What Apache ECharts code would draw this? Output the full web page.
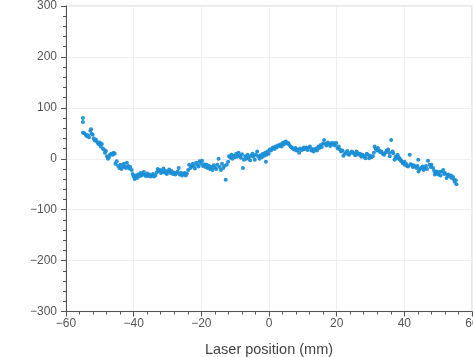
<!DOCTYPE html>
<html>
<head>
<meta charset="utf-8">
<script src="https://cdn.jsdelivr.net/npm/echarts@6/dist/echarts.min.js"></script>
<style>
  html, body { margin: 0; padding: 0; background: #fff; }
  #chart { width: 473px; height: 357px; }
</style>
</head>
<body>
<div id="chart"></div>
<script>
// Laser scan: measured deviation vs. laser position (mm)
const positions = [
  -55.0,-55.0,-55.0,-54.6,-54.2,-53.8,-53.5,-53.2,-52.8,-52.6,-52.4,-52.1,-51.8,-51.5,-51.2,-50.8,-50.5,-50.2,-50.0,-49.7,-49.4,-49.1,-48.8,-48.5,-48.2,-47.9,-47.6,-47.3,-47.0,-46.6,-46.2,-45.9,-45.6,-45.4,-45.0,
  -44.6,-44.2,-43.9,-43.6,-43.2,-42.9,-42.6,-42.3,-42.0,-41.6,-41.3,-41.0,-40.6,-40.3,-40.0,-39.7,-39.4,-39.0,-38.7,-38.4,-38.0,-37.7,-37.4,-37.0,-36.7,-36.4,-36.0,-35.7,-35.4,-35.0,-34.6,-34.3,-34.0,-33.6,
  -33.2,-32.9,-32.6,-32.2,-31.9,-31.5,-31.2,-30.9,-30.5,-30.2,-29.8,-29.5,-29.1,-28.8,-28.4,-28.1,-27.7,-27.4,-27.0,-26.7,-26.4,-26.0,-25.7,-25.3,-25.0,-24.6,-24.3,
  -23.9,-23.6,-23.2,-22.9,-22.5,-22.2,-21.9,-21.5,-21.2,-20.8,-20.5,-20.1,-19.8,-19.5,-19.1,-18.8,-18.4,-18.1,-17.7,-17.4,-17.0,-16.7,-16.3,-16.0,-15.6,-15.3,-14.9,-14.6,-14.2,-13.9,-13.5,-13.2,-12.8,-12.5,-12.1,
  -11.8,-11.4,-11.1,-10.8,-10.4,-10.1,-9.7,-9.4,-9.0,-8.7,-8.3,-8.0,-7.7,-7.4,-7.0,-6.7,-6.3,-6.0,-5.6,-5.3,-4.9,-4.6,-4.2,-3.9,-3.5,-3.2,-2.8,-2.5,-2.1,-1.8,-1.4,-1.1,-0.9,-0.7,-0.4,-0.1,
  0.2,0.6,0.9,1.2,1.6,1.9,2.3,2.6,3.0,3.3,3.7,4.0,4.4,4.7,5.0,5.4,5.7,6.0,6.4,6.7,7.1,7.4,7.8,8.1,8.5,8.9,9.2,9.6,10.0,
  10.3,10.7,11.0,11.4,11.8,12.1,12.5,12.8,13.2,13.5,13.9,14.2,14.6,14.9,15.3,15.6,16.0,16.3,16.7,17.0,17.4,17.8,18.1,18.5,18.8,19.2,19.5,19.9,
  20.3,20.6,21.0,21.3,21.7,22.0,22.4,22.7,23.1,23.4,23.7,24.1,24.5,24.8,25.2,25.5,25.9,26.2,26.6,26.9,27.3,27.6,27.9,
  28.2,28.5,28.9,29.2,29.6,29.9,30.3,30.7,31.0,31.2,31.5,31.7,32.0,32.2,32.6,32.9,33.2,33.6,34.0,34.4,34.8,35.2,35.5,35.7,36.1,36.5,36.7,
  37.1,37.4,37.6,38.0,38.1,38.5,38.6,39.0,39.1,39.5,39.6,40.0,40.1,40.5,40.8,41.1,41.6,41.8,42.1,42.5,42.8,43.1,43.6,43.9,44.1,44.2,44.6,45.0,45.4,45.7,46.0,
  46.4,46.7,47.0,47.5,47.8,48.0,48.5,48.8,49.0,49.3,49.5,49.8,50.0,50.4,50.7,51.0,51.5,51.8,52.0,52.5,52.8,53.0,53.5,53.8,54.0,54.4,54.7,54.9,55.2,55.4
];
const readings = [
  80,72,51,50,47,44,46,42,55,58,49,47,40,36,38,33,30,28,32,24,29,20,18,12,15,5,0,3,8,10,8,12,10,-10,-5,
  -14,-18,-12,-20,-16,-10,-15,-18,-8,-14,-19,-16,-22,-30,-35,-40,-33,-38,-31,-35,-28,-33,-30,-26,-32,-34,-29,-34,-31,-35,-33,-30,-35,-33,
  -27,-20,-24,-22,-28,-25,-19,-27,-24,-30,-25,-21,-28,-24,-30,-27,-31,-28,-25,-18,-31,-28,-33,-30,-28,-33,-29,
  -22,-12,-18,-15,-10,-14,-19,-8,-12,-15,-5,-10,-4,-14,-11,-16,-12,-18,-14,-20,-16,-22,-13,-17,-20,-12,0,-16,-22,-10,-18,-14,-41,-12,-6,
  5,2,8,0,6,3,10,4,12,6,2,9,-18,-2,5,0,8,2,-3,6,10,4,-2,8,14,5,0,7,3,10,6,12,-6,8,14,10,
  18,16,20,22,19,24,22,26,25,28,24,31,28,33,34,30,31,27,24,22,20,18,21,16,18,12,20,17,18,
  22,19,22,17,22,24,16,19,14,18,20,16,24,21,27,23,30,37,29,26,32,29,25,31,28,31,26,31,
  20,24,18,14,16,6,10,12,15,9,8,12,14,12,10,7,14,11,8,10,4,8,6,
  5,1,10,8,1,6,3,5,12,24,20,18,16,21,16,13,14,10,8,12,16,18,12,5,37,14,11,
  -2,4,1,8,5,-1,1,-3,-5,-8,-9,-6,-12,-10,-14,-15,8,-11,-12,-16,-13,-15,-18,-14,-2,-25,-20,-18,-15,-22,-18,
  -14,-20,-4,-12,-16,-12,-18,-24,-31,-27,-25,-29,-31,-26,-33,-25,-22,-30,-28,-38,-33,-31,-35,-33,-38,-36,-41,-45,-42,-50
];
const xTickRange = [-60, 60];
const yTickRange = [-300, 300];
const xAxisTitle = 'Laser position (mm)';

const points = positions.map((x, i) => [x, readings[i]]);
const minus = v => String(v).replace('-', '\u2212');

const labelFont = { color: '#555', fontSize: 12, fontFamily: 'Liberation Sans, Arial, sans-serif' };
const axisLineStyle = { color: '#555', width: 1 };

const chart = echarts.init(document.getElementById('chart'), null, { renderer: 'canvas' });
chart.setOption({
  animation: false,
  backgroundColor: '#fff',
  grid: {
    left: 66, top: 6, right: 1, bottom: 45.5,
    containLabel: false, outerBoundsMode: 'none',
    show: true, borderColor: '#e2e2e2', borderWidth: 1.5, backgroundColor: 'transparent'
  },
  xAxis: {
    type: 'value', min: xTickRange[0], max: xTickRange[1], interval: 20,
    name: xAxisTitle, nameLocation: 'middle', nameGap: 31,
    nameTextStyle: { color: '#444', fontSize: 14.5, fontFamily: 'Liberation Sans, Arial, sans-serif' },
    axisLine: { show: true, onZero: false, lineStyle: axisLineStyle },
    axisTick: { show: true, length: 5, lineStyle: axisLineStyle },
    minorTick: { show: true, splitNumber: 5, length: 3, lineStyle: axisLineStyle },
    axisLabel: Object.assign({ margin: 6, formatter: minus }, labelFont),
    splitLine: { show: true, lineStyle: { color: '#efefef', width: 1 } }
  },
  yAxis: {
    type: 'value', min: yTickRange[0], max: yTickRange[1], interval: 100,
    axisLine: { show: true, onZero: false, lineStyle: axisLineStyle },
    axisTick: { show: true, length: 5, lineStyle: axisLineStyle },
    minorTick: { show: true, splitNumber: 5, length: 3, lineStyle: axisLineStyle },
    axisLabel: Object.assign({ margin: 9, formatter: minus }, labelFont),
    splitLine: { show: true, lineStyle: { color: '#efefef', width: 1 } }
  },
  series: [{
    type: 'scatter',
    data: points,
    symbol: 'circle',
    symbolSize: 4,
    itemStyle: { color: '#1a8ed6', opacity: 0.95 }
  }]
});
</script>
</body>
</html>
